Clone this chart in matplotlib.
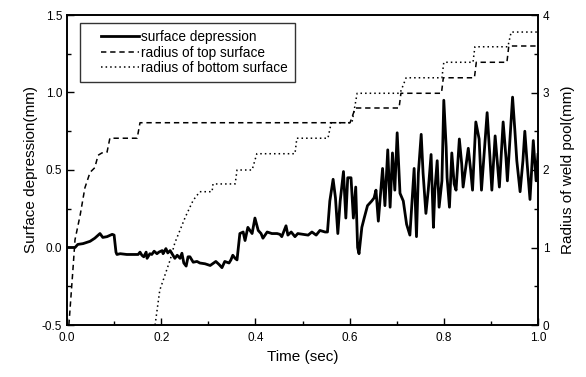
import numpy as np
import matplotlib
matplotlib.use("Agg")
import matplotlib.pyplot as plt
from matplotlib.ticker import MultipleLocator
from matplotlib.lines import Line2D
from matplotlib.legend_handler import HandlerLine2D

plt.rcParams["font.family"] = ["Liberation Sans", "DejaVu Sans"]

# surface depression (mm), left axis
time_depression = [
    0.000, 0.017, 0.023, 0.034, 0.049, 0.059, 0.070, 0.076, 0.085, 0.096,
    0.100, 0.104, 0.106, 0.113, 0.127, 0.151, 0.155, 0.159, 0.163, 0.168,
    0.170, 0.176, 0.180, 0.185, 0.191, 0.195, 0.202, 0.204, 0.210, 0.214,
    0.219, 0.225, 0.229, 0.234, 0.240, 0.244, 0.248, 0.253, 0.257, 0.261,
    0.268, 0.276, 0.282, 0.293, 0.304, 0.316, 0.323, 0.329, 0.335, 0.344,
    0.348, 0.352, 0.357, 0.361, 0.367, 0.374, 0.378, 0.384, 0.393, 0.399,
    0.406, 0.412, 0.416, 0.425, 0.435, 0.446, 0.452, 0.456, 0.465, 0.469,
    0.476, 0.484, 0.490, 0.501, 0.512, 0.520, 0.529, 0.537, 0.548, 0.553,
    0.558, 0.565, 0.570, 0.575, 0.580, 0.587, 0.592, 0.596, 0.603, 0.608,
    0.613, 0.617, 0.620, 0.626, 0.631, 0.638, 0.647, 0.652, 0.656, 0.661,
    0.670, 0.675, 0.681, 0.686, 0.691, 0.696, 0.701, 0.707, 0.714, 0.721,
    0.728, 0.737, 0.742, 0.746, 0.752, 0.756, 0.762, 0.767, 0.773, 0.778,
    0.781, 0.786, 0.790, 0.796, 0.800, 0.805, 0.807, 0.812, 0.817, 0.822,
    0.826, 0.833, 0.838, 0.841, 0.852, 0.857, 0.861, 0.868, 0.875, 0.880,
    0.892, 0.898, 0.902, 0.909, 0.918, 0.926, 0.932, 0.935, 0.946, 0.951,
    0.955, 0.962, 0.968, 0.972, 0.977, 0.983, 0.990, 0.996, 1.000,
]
depression = [
    0.000, 0.000, 0.020, 0.025, 0.040, 0.060, 0.090, 0.065, 0.070, 0.085,
    0.080, -0.030, -0.045, -0.040, -0.045, -0.045, -0.030, -0.050, -0.060, -0.030,
    -0.070, -0.040, -0.045, -0.024, -0.040, -0.030, -0.020, -0.040, -0.007, -0.035,
    -0.020, -0.050, -0.070, -0.050, -0.070, -0.037, -0.100, -0.120, -0.060, -0.060,
    -0.095, -0.090, -0.100, -0.105, -0.116, -0.090, -0.110, -0.130, -0.090, -0.100,
    -0.080, -0.050, -0.070, -0.080, 0.090, 0.100, 0.045, 0.130, 0.090, 0.190,
    0.110, 0.090, 0.060, 0.100, 0.090, 0.090, 0.085, 0.070, 0.140, 0.080,
    0.100, 0.070, 0.090, 0.085, 0.080, 0.100, 0.080, 0.110, 0.100, 0.100,
    0.300, 0.440, 0.320, 0.090, 0.300, 0.490, 0.190, 0.450, 0.450, 0.190,
    0.390, 0.000, -0.040, 0.130, 0.190, 0.270, 0.300, 0.320, 0.370, 0.170,
    0.510, 0.270, 0.630, 0.260, 0.610, 0.370, 0.740, 0.350, 0.300, 0.150,
    0.080, 0.510, 0.070, 0.480, 0.730, 0.480, 0.220, 0.370, 0.600, 0.130,
    0.370, 0.560, 0.260, 0.430, 0.950, 0.650, 0.450, 0.260, 0.610, 0.410,
    0.370, 0.700, 0.540, 0.390, 0.640, 0.500, 0.370, 0.810, 0.700, 0.370,
    0.870, 0.580, 0.370, 0.720, 0.390, 0.810, 0.580, 0.430, 0.970, 0.750,
    0.560, 0.360, 0.560, 0.750, 0.540, 0.310, 0.690, 0.430, 0.600,
]

# radius of top surface (mm), right axis
time_top = [0.004, 0.013, 0.017, 0.028, 0.038, 0.049, 0.059, 0.066, 0.074, 0.085,
            0.091, 0.149, 0.155, 0.601, 0.612, 0.705, 0.709, 0.795, 0.799, 0.865,
            0.869, 0.934, 0.938, 1.000]
radius_top = [0.00, 0.75, 1.10, 1.42, 1.77, 1.97, 2.03, 2.19, 2.22, 2.23,
              2.41, 2.41, 2.61, 2.61, 2.80, 2.80, 2.99, 2.99, 3.19, 3.19,
              3.39, 3.39, 3.60, 3.60]

# radius of bottom surface (mm), right axis
time_bottom = [0.187, 0.197, 0.219, 0.229, 0.251, 0.268, 0.282, 0.308, 0.310, 0.357,
               0.361, 0.393, 0.403, 0.484, 0.488, 0.554, 0.561, 0.605, 0.616, 0.707,
               0.720, 0.796, 0.800, 0.862, 0.866, 0.936, 0.943, 1.000]
radius_bottom = [0.00, 0.45, 0.84, 1.06, 1.39, 1.61, 1.72, 1.72, 1.82, 1.82,
                 2.00, 2.00, 2.21, 2.21, 2.41, 2.41, 2.61, 2.61, 2.99, 2.99,
                 3.19, 3.19, 3.39, 3.39, 3.59, 3.59, 3.78, 3.78]

DASHED = (0, (3.5, 2.5))
DOTTED = (0, (1, 2))

fig = plt.figure(figsize=(5.86, 3.77), dpi=100)
ax = fig.add_axes([67 / 586, 1 - 325 / 377, 471 / 586, 310 / 377])
ax2 = ax.twinx()

ax.plot(time_depression, depression, color="black", lw=2.0)
ax2.plot(time_top, radius_top, color="black", lw=1.1, linestyle=DASHED)
ax2.plot(time_bottom, radius_bottom, color="black", lw=1.1, linestyle=DOTTED)

ax.set_xlim(0, 1.0)
ax.set_ylim(-0.5, 1.5)
ax2.set_ylim(0, 4)

ax.xaxis.set_major_locator(MultipleLocator(0.2))
ax.xaxis.set_minor_locator(MultipleLocator(0.1))
ax.yaxis.set_major_locator(MultipleLocator(0.5))
ax.yaxis.set_minor_locator(MultipleLocator(0.25))
ax2.yaxis.set_major_locator(MultipleLocator(1))
ax2.yaxis.set_minor_locator(MultipleLocator(0.5))

ax.set_xticklabels([f"{v:.1f}" for v in ax.get_xticks()])
ax.set_yticklabels([f"{v:.1f}" for v in ax.get_yticks()])

for a in (ax, ax2):
    a.tick_params(which="both", direction="in", width=1.0, labelsize=8.5)
    a.tick_params(which="major", length=5)
    a.tick_params(which="minor", length=3)
    for s in a.spines.values():
        s.set_linewidth(1.2)
ax.tick_params(axis="x", pad=5)

ax.set_xlabel("Time (sec)", fontsize=11, labelpad=4)
ax.set_ylabel("Surface depression(mm)", fontsize=11, labelpad=3)
ax2.set_ylabel("Radius of weld pool(mm)", fontsize=11, labelpad=8)

handles = [
    Line2D([], [], color="black", lw=2.0),
    Line2D([], [], color="black", lw=1.1, linestyle=DASHED),
    Line2D([], [], color="black", lw=1.1, linestyle=DOTTED),
]
labels = ["surface depression", "radius of top surface", "radius of bottom surface"]
leg = ax2.legend(handles, labels, loc="upper left", bbox_to_anchor=(0.027, 0.975),
                 fontsize=9.8, frameon=True, fancybox=False, edgecolor="black",
                 handlelength=3.8, handletextpad=0.15, labelspacing=0.1,
                 borderpad=0.55, borderaxespad=0,
                 handler_map={Line2D: HandlerLine2D(xpad=1.0)})
leg.get_frame().set_linewidth(1.0)

fig.savefig("out.png", dpi=100)
